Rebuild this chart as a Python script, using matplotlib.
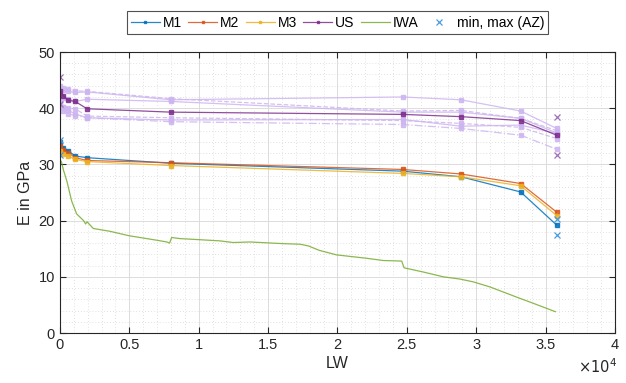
import matplotlib
matplotlib.use("Agg")
import matplotlib.pyplot as plt
from matplotlib.ticker import MultipleLocator, FuncFormatter

plt.rcParams['font.family'] = ['Liberation Sans', 'DejaVu Sans']

# ---- data ----
lw = [0, 250, 600, 1100, 1950, 8000, 24700, 28900, 33200, 35800]
m1 = [33.9, 33.0, 32.4, 31.5, 31.2, 30.2, 28.8, 27.8, 25.1, 19.2]
m2 = [33.3, 32.5, 32.1, 31.2, 30.7, 30.3, 29.1, 28.3, 26.6, 21.5]
m3 = [32.4, 31.9, 31.5, 30.9, 30.5, 29.8, 28.4, 27.8, 26.2, 20.9]
us = [43.0, 42.2, 41.4, 41.2, 39.9, 39.3, 38.9, 38.5, 37.8, 35.2]

# individual (light) ultrasonic curves
us_a = [43.5, 43.2, 43.0, 42.8, 42.9, 41.5, 42.0, 41.5, 39.5, 36.4]
us_b = [44.0, 43.6, 43.5, 43.1, 43.0, 41.7, 39.5, 39.6, 38.2, 36.0]
us_c = [42.5, 41.8, 41.6, 41.2, 41.6, 41.2, 39.3, 39.3, 38.2, 35.6]
us_d = [40.8, 40.3, 40.0, 39.9, 38.6, 38.3, 37.8, 37.3, 36.6, 34.6]
us_e = [41.0, 40.3, 39.6, 39.0, 38.3, 37.9, 38.0, 36.8, 37.0, 35.5]
us_f = [40.2, 39.5, 39.0, 38.7, 38.3, 37.6, 37.1, 36.4, 35.2, 32.7]

iwa_x = [0, 100, 250, 500, 840, 1200, 1700, 1850, 1950, 2400, 3600, 5000, 7000, 7700,
         7900, 8050, 8650, 10100, 11500, 12500, 13700, 16100, 17300, 17900, 18700,
         19940, 22100, 23300, 24630, 24800, 26190, 27630, 28830, 29790, 30990, 32900,
         34100, 35700]
iwa_y = [30.8, 30.5, 29.0, 27.0, 23.5, 21.2, 20.0, 19.4, 19.8, 18.6, 18.1, 17.3, 16.5,
         16.2, 16.0, 17.0, 16.8, 16.6, 16.4, 16.1, 16.2, 15.9, 15.8, 15.5, 14.7, 13.9,
         13.3, 12.9, 12.8, 11.6, 10.85, 10.0, 9.6, 9.1, 8.2, 6.4, 5.3, 3.8]

az_m_x = [0, 0, 35800, 35800]
az_m_y = [34.3, 31.7, 20.2, 17.5]
az_us_x = [0, 0, 35800, 35800]
az_us_y = [45.5, 40.7, 38.5, 31.6]

# ---- style ----
c_m1 = '#0072BD'
c_m2 = '#D95319'
c_m3 = '#EDB120'
c_us = '#7E2F8E'
c_iwa = '#77AC30'
c_light = '#CDB5F0'

fig = plt.figure(figsize=(6.26, 3.83), dpi=100)
ax = fig.add_axes([0.0958, 0.1305, 0.8866, 0.7337])

lwid = 0.9
ms = 2.6
for yy, ls in [(us_a, '-'), (us_b, '--'), (us_c, '-'), (us_d, '--'), (us_e, '-'), (us_f, '-.')]:
    ax.plot(lw, yy, ls, color=c_light, lw=lwid, marker='s', ms=2.4, mec=c_light, mfc=c_light,
            alpha=0.85)

ax.plot(lw, m1, '-', color=c_m1, lw=lwid, marker='s', ms=ms, label='M1', alpha=0.85)
ax.plot(lw, m2, '-', color=c_m2, lw=lwid, marker='s', ms=ms, label='M2', alpha=0.85)
ax.plot(lw, m3, '-', color=c_m3, lw=lwid, marker='s', ms=ms, label='M3', alpha=0.85)
ax.plot(lw, us, '-', color=c_us, lw=lwid, marker='s', ms=ms, label='US', alpha=0.85)
ax.plot(iwa_x, iwa_y, '-', color=c_iwa, lw=lwid, label='IWA', alpha=0.85)
ax.plot(az_m_x, az_m_y, 'x', color='#4A9BE0', ms=5, mew=0.9, label='min, max (AZ)')
ax.plot(az_us_x, az_us_y, 'x', color='#A070B8', ms=5, mew=0.9)

ax.set_xlim(0, 40000)
ax.set_ylim(0, 50)
ax.xaxis.set_major_locator(MultipleLocator(5000))
ax.xaxis.set_minor_locator(MultipleLocator(1000))
ax.yaxis.set_major_locator(MultipleLocator(10))
ax.yaxis.set_minor_locator(MultipleLocator(2))
ax.xaxis.set_major_formatter(FuncFormatter(lambda v, p: f'{v/1e4:g}'))

ax.grid(which='major', color='#DCDCDC', lw=0.7)
ax.grid(which='minor', color='#D8D8D8', lw=0.6, ls=(0, (1, 2.5)))
ax.set_axisbelow(True)

ax.tick_params(which='both', direction='in', top=True, right=True, colors='#262626',
               labelsize=10.5, length=4)
ax.tick_params(which='minor', length=0)
for s in ax.spines.values():
    s.set_color('#262626')
    s.set_linewidth(0.8)

ax.set_xlabel('LW', fontsize=11.5, color='#262626', labelpad=3)
ax.set_ylabel('E in GPa', fontsize=11.5, color='#262626', labelpad=4)
fig.text(0.955, 0.025, r'$\times10^4$', fontsize=10.5, color='#262626', ha='center')

leg = ax.legend(loc='center', bbox_to_anchor=(0.539, 0.941), bbox_transform=fig.transFigure,
                ncol=6, fontsize=10, frameon=True, fancybox=False, edgecolor='#262626',
                handlelength=2.1, handletextpad=0.2, columnspacing=0.45, borderpad=0.3,
                markerscale=0.8)
leg.get_frame().set_linewidth(0.8)

fig.savefig('out.png', dpi=100)
